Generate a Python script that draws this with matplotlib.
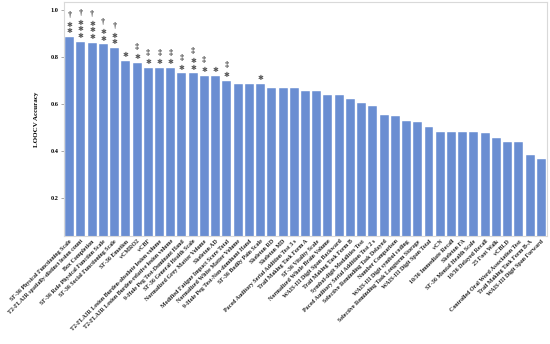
import matplotlib
matplotlib.use("Agg")
import matplotlib.pyplot as plt
import numpy as np

# Features ranked by LOOCV accuracy
features = [
    "SF-36 Physical Functioning Scale",
    "T2-FLAIR spatially-distinct lesion count",
    "Box Completion",
    "SF-36 Role Physical Function Scale",
    "SF-36 Social Functioning Scale",
    "SF-36 Emotion",
    "vCMRO2",
    "vCBF",
    "T2-FLAIR Lesion Burden-absolute lesion volume",
    "T2-FLAIR Lesion Burden-relative lesion volume",
    "9-Hole Peg Test-Dominant Hand",
    "SF-36 General Health Scale",
    "Normalized Grey Matter Volume",
    "Skeleton AD",
    "Modified Fatigue Impact Score Total",
    "Normalized White Matter Volume",
    "9-Hole Peg Test-Non-dominant Hand",
    "SF-36 Bodily Pain Scale",
    "Skeleton RD",
    "Skeleton MD",
    "Paced Auditory Serial Addition Test 3 s",
    "Trail Making Task Form A",
    "SF-36 Vitality Scale",
    "Normalized Whole Brain Volume",
    "WAIS-III Digit Span Backward",
    "Trail Making Task Form B",
    "Symbol-digit Modalities Test",
    "Paced Auditory Serial Addition Test 2 s",
    "Selective Reminding Task Delayed",
    "Number Comparison",
    "WAIS-III Digit symbol coding",
    "Selective Reminding Task Longterm Storage",
    "WAIS-III Digit Span Total",
    "vCN",
    "10/36 Immediate Recall",
    "Skeleton FA",
    "SF-36 Mental Health Scale",
    "10/36 Delayed Recall",
    "25 Foot Walk",
    "vCBLD",
    "Controlled Oral Word Association Test",
    "Trail Making Task Form B-A",
    "WAIS-III Digit Span Forward",
]

accuracy = [
    0.884, 0.865, 0.860, 0.854, 0.837, 0.782, 0.776, 0.752, 0.752, 0.752,
    0.730, 0.730, 0.719, 0.719, 0.698, 0.685, 0.685, 0.685, 0.670, 0.670,
    0.670, 0.655, 0.655, 0.640, 0.640, 0.621, 0.604, 0.593, 0.554, 0.548,
    0.529, 0.523, 0.502, 0.479, 0.479, 0.479, 0.479, 0.475, 0.457, 0.437,
    0.437, 0.383, 0.366,
]

# significance marks above bars
n_stars = [2, 3, 3, 2, 2, 1, 1, 1, 1, 1, 1, 2, 1, 1, 1, 0, 0, 1] + [0] * 25
daggers = ["†", "†", "†", "†", "†", "", "‡", "‡", "‡", "‡", "‡", "‡", "‡", "", "‡"] + [""] * 28

bar_color = "#6a8ed2"
grey = "#d9d9d9"
serif = ["Liberation Serif", "DejaVu Serif"]

fig = plt.figure(figsize=(5.5, 3.44), dpi=100)
ax = fig.add_axes([0.1164, 0.314, 0.878, 0.680])

x = np.arange(len(features))
ax.bar(x, accuracy, width=0.8, color=bar_color, edgecolor="white", linewidth=0.3)

ax.set_xlim(-0.5, len(features) - 0.5)
ax.set_ylim(0.038, 1.034)
ax.set_yticks([0.2, 0.4, 0.6, 0.8, 1.0])
ax.set_yticklabels(["0.2", "0.4", "0.6", "0.8", "1.0"], fontsize=4.5,
                   fontweight="bold", family=serif)
ax.tick_params(axis="y", length=2, width=0.5, color="#888888", pad=2)
ax.set_ylabel("LOOCV Accuracy", fontsize=5, fontweight="bold", family=serif, labelpad=8)

ax.set_xticks(x)
ax.set_xticklabels(features, rotation=45, ha="right", rotation_mode="anchor",
                   fontsize=4.3, fontweight="bold", family=serif, color="#222222")
ax.tick_params(axis="x", length=0, pad=2)

for s in ax.spines.values():
    s.set_color(grey)
    s.set_linewidth(0.8)

for i, v in enumerate(accuracy):
    off = 4.2
    for k in range(n_stars[i]):
        ax.annotate("✱", (i, v), xytext=(0, off), textcoords="offset points",
                    ha="center", va="center", fontsize=5, color="#555555",
                    family="DejaVu Sans")
        off += 4.8
    if daggers[i]:
        ax.annotate(daggers[i], (i, v), xytext=(0, off + 2.2), textcoords="offset points",
                    ha="center", va="center", fontsize=6, color="#333333",
                    family=serif, fontweight="bold")

fig.savefig("out.png", dpi=100)
